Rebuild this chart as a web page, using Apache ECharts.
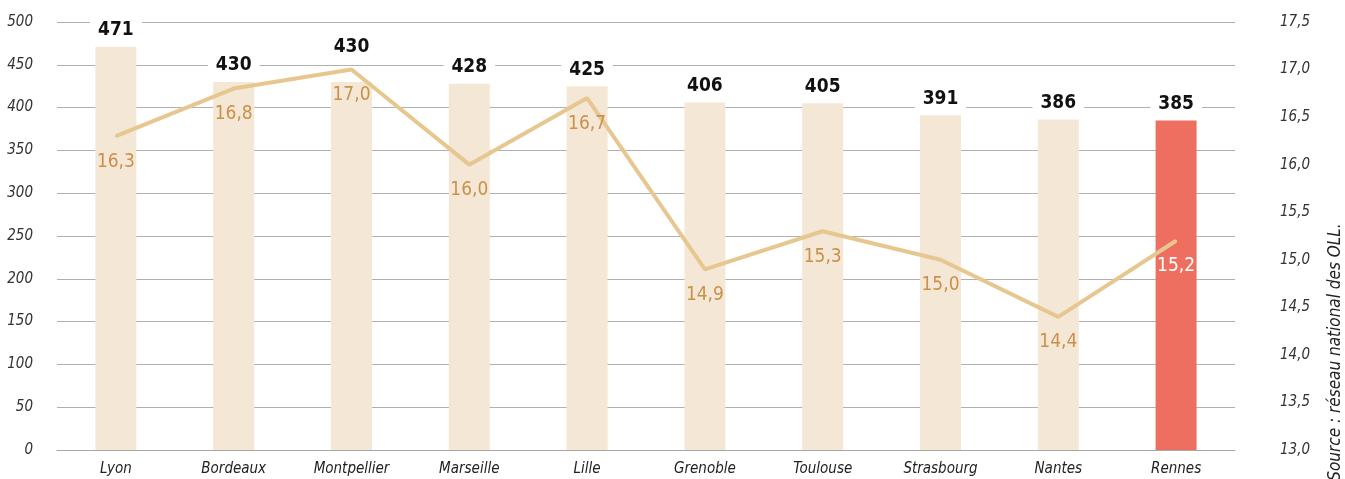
<!DOCTYPE html>
<html>
<head>
<meta charset="utf-8">
<script src="https://cdn.jsdelivr.net/npm/echarts@6/dist/echarts.min.js"></script>
<style>
  html, body { margin: 0; padding: 0; background: #fff; }
  #main { width: 1345px; height: 479px; }
</style>
</head>
<body>
<div id="main"></div>
<script>
var villes = ['Lyon', 'Bordeaux', 'Montpellier', 'Marseille', 'Lille', 'Grenoble', 'Toulouse', 'Strasbourg', 'Nantes', 'Rennes'];
var loyers = [471, 430, 430, 428, 425, 406, 405, 391, 386, 385];
var loyersM2 = [16.3, 16.8, 17.0, 16.0, 16.7, 14.9, 15.3, 15.0, 14.4, 15.2];
var source = 'Source : réseau national des OLL.';

var police = "'Liberation Sans Narrow', 'DejaVu Sans Condensed', 'Roboto', sans-serif";
var virgule = function (v) { return v.toFixed(1).replace('.', ','); };

// Rennes en rouge, les autres en beige
var barres = loyers.map(function (v, i) {
  var rennes = villes[i] === 'Rennes';
  var item = { value: v, itemStyle: { color: rennes ? '#ee6e5f' : '#f5e7d6' } };
  // étiquette remontée au-dessus de la courbe
  if (villes[i] === 'Montpellier') item.label = { distance: 24 };
  return item;
});
var points = loyersM2.map(function (v, i) {
  var item = { value: v };
  if (villes[i] === 'Rennes') item.label = { color: '#fff' };
  return item;
});

var chart = echarts.init(document.getElementById('main'));
chart.setOption({
  animation: false,
  textStyle: { fontFamily: police },
  grid: { left: 57, right: 110, top: 22, bottom: 29 },
  xAxis: {
    type: 'category',
    data: villes,
    axisLine: { lineStyle: { color: '#a8a8a8' } },
    axisTick: { show: false },
    axisLabel: { fontStyle: 'italic', fontSize: 15, color: '#222', margin: 12 }
  },
  yAxis: [
    {
      type: 'value', min: 0, max: 500, interval: 50,
      axisLine: { show: false }, axisTick: { show: false },
      axisLabel: { fontStyle: 'italic', fontSize: 15, color: '#333', margin: 24 },
      splitLine: { lineStyle: { color: '#b0b0b0', width: 1.2 } }
    },
    {
      type: 'value', min: 13, max: 17.5, interval: 0.5,
      axisLine: { show: false }, axisTick: { show: false },
      axisLabel: { fontStyle: 'italic', fontSize: 15, color: '#333', margin: 45, formatter: virgule },
      splitLine: { show: false }
    }
  ],
  series: [
    {
      type: 'bar',
      data: barres,
      barWidth: 41,
      label: {
        show: true, position: 'top', distance: 6,
        fontSize: 19, fontWeight: 'bold', color: '#111',
        backgroundColor: '#fff', padding: [1, 8]
      }
    },
    {
      type: 'line',
      yAxisIndex: 1,
      data: points,
      symbol: 'circle', symbolSize: 2,
      itemStyle: { color: '#e6c790' },
      lineStyle: { color: '#e6c790', width: 4 },
      label: {
        show: true, position: 'bottom', distance: 15,
        fontSize: 19, color: '#c8924a', formatter: function (p) { return virgule(p.value); }
      },
      z: 3
    }
  ],
  graphic: [{
    type: 'text',
    x: 1336, y: 352,
    rotation: Math.PI / 2,
    style: {
      text: source, font: 'italic 17px ' + police, fill: '#222',
      align: 'center', verticalAlign: 'middle'
    }
  }]
});
</script>
</body>
</html>
